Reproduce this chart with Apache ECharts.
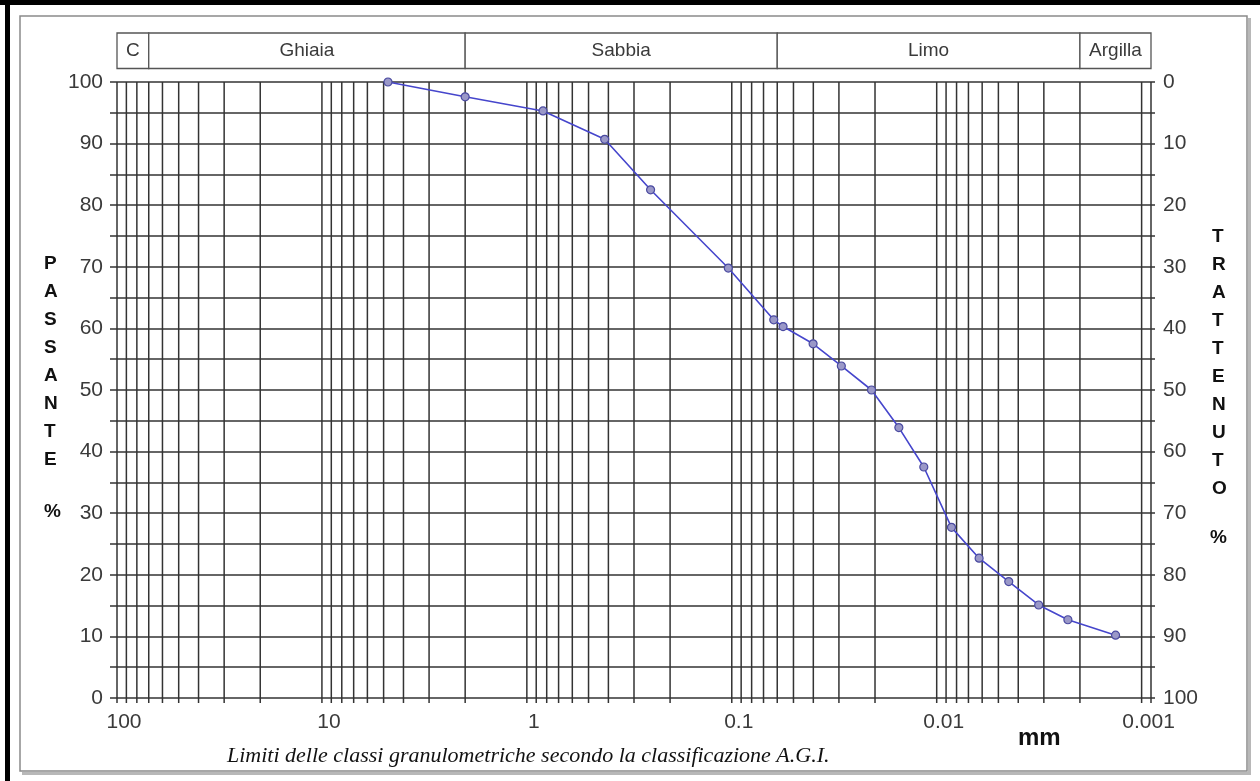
<!DOCTYPE html>
<html>
<head>
<meta charset="utf-8">
<script src="https://cdn.jsdelivr.net/npm/echarts@6/dist/echarts.min.js"></script>
<style>
html,body{margin:0;padding:0;background:#fff;}
#c{width:1260px;height:781px;}
</style>
</head>
<body>
<div id="c"></div>
<script>
// ---- data ----
const diameters = [4.76, 2.0, 0.834, 0.417, 0.249, 0.104, 0.0624, 0.0562, 0.0401, 0.0292, 0.0208, 0.0153, 0.01156, 0.00847, 0.00621, 0.00445, 0.00318, 0.00229, 0.00134];
const passing   = [100, 97.6, 95.3, 90.7, 82.5, 69.8, 61.4, 60.3, 57.5, 53.9, 50.0, 43.9, 37.5, 27.7, 22.7, 18.9, 15.1, 12.7, 10.2];
const xTickLabels = ['100', '10', '1', '0.1', '0.01', '0.001'];
const classNames  = ['C', 'Ghiaia', 'Sabbia', 'Limo', 'Argilla'];
const classBounds = [100, 70, 2, 0.06, 0.002, 0.0009];

const X_MIN = 0.0009, X_MAX = 100;
// log gridline positions: 1..9 x each decade within range
const xGrid = [];
for (let e = 2; e >= -4; e--) {
  for (let m = 9; m >= 1; m--) {
    const val = m * Math.pow(10, e);
    if (val <= X_MAX * 1.0000001 && val >= X_MIN * 0.9999999) xGrid.push(val);
  }
}
const seriesData = diameters.map((d, i) => [d, passing[i]]);

const GRID_COLOR = '#333';
const GRID_W = 1.5;
const chart = echarts.init(document.getElementById('c'), null, {renderer: 'canvas'});
const font = 'Liberation Sans, Arial, sans-serif';

chart.setOption({
  animation: false,
  backgroundColor: '#fff',
  grid: {left: 117, right: 109, top: 82, bottom: 83, containLabel: false},
  xAxis: {
    type: 'log', logBase: 10, inverse: true, min: X_MIN, max: X_MAX,
    axisLine: {show: false}, axisTick: {show: false}, splitLine: {show: false},
    axisLabel: {
      margin: 14, color: '#3a3a3a', fontSize: 21, fontFamily: font,
      padding: [0, 0, 0, 14],
      showMinLabel: false,
      formatter: function (v) {
        const l = Math.log10(v);
        if (Math.abs(l - Math.round(l)) > 1e-6) return '';
        const idx = 2 - Math.round(l);
        return xTickLabels[idx] !== undefined ? xTickLabels[idx] : '';
      }
    }
  },
  yAxis: [
    {
      type: 'value', min: 0, max: 100, interval: 5, position: 'left',
      axisLine: {show: false},
      axisTick: {show: true, length: 7, lineStyle: {color: GRID_COLOR, width: GRID_W}},
      splitLine: {show: true, lineStyle: {color: GRID_COLOR, width: GRID_W}},
      axisLabel: {margin: 14, color: '#3a3a3a', fontSize: 21, fontFamily: font,
        formatter: v => (v % 10 === 0 ? String(v) : '')}
    },
    {
      type: 'value', min: 0, max: 100, interval: 5, position: 'right', inverse: true,
      axisLine: {show: false},
      axisTick: {show: true, length: 4, lineStyle: {color: GRID_COLOR, width: GRID_W}},
      splitLine: {show: false},
      axisLabel: {margin: 12, color: '#3a3a3a', fontSize: 21, fontFamily: font,
        formatter: v => (v % 10 === 0 ? String(v) : '')}
    }
  ],
  graphic: [
    // outer frames
    {type: 'rect', shape: {x: 0, y: 0, width: 1260, height: 5}, style: {fill: '#000'}, z: 0},
    {type: 'rect', shape: {x: 5, y: 0, width: 5, height: 781}, style: {fill: '#000'}, z: 0},
    {type: 'rect', shape: {x: 20, y: 16, width: 1227, height: 755}, style: {fill: 'none', stroke: '#8a8a8a', lineWidth: 1.5}, z: 0},
    {type: 'rect', shape: {x: 22, y: 772, width: 1228, height: 3}, style: {fill: '#b8b8b8'}, z: 0},
    {type: 'rect', shape: {x: 1248, y: 18, width: 3, height: 757}, style: {fill: '#b8b8b8'}, z: 0},
    // axis titles
    {type: 'text', left: 44, top: 250, style: {text: 'P\nA\nS\nS\nA\nN\nT\nE', font: 'bold 19px ' + font, fill: '#111', lineHeight: 28, align: 'center'}},
    {type: 'text', left: 44, top: 502, style: {text: '%', font: 'bold 19px ' + font, fill: '#111'}},
    {type: 'text', left: 1212, top: 223, style: {text: 'T\nR\nA\nT\nT\nE\nN\nU\nT\nO', font: 'bold 19px ' + font, fill: '#111', lineHeight: 28, align: 'center'}},
    {type: 'text', left: 1210, top: 528, style: {text: '%', font: 'bold 19px ' + font, fill: '#111'}},
    {type: 'text', left: 1018, top: 726, style: {text: 'mm', font: 'bold 24px ' + font, fill: '#111'}},
    {type: 'text', left: 227, top: 745, style: {text: 'Limiti delle classi granulometriche secondo la classificazione A.G.I.', font: 'italic 22px Liberation Serif, Times New Roman, serif', fill: '#111'}}
  ],
  series: [
    {
      type: 'custom', silent: true, clip: false, z: 1,
      xAxisIndex: 0, yAxisIndex: 0,
      data: xGrid.map(v => [v, 0]),
      renderItem: function (params, api) {
        const v = api.value(0);
        const p0 = api.coord([v, 0]);
        const p1 = api.coord([v, 100]);
        return {type: 'line', shape: {x1: p0[0], y1: p0[1] + 5, x2: p1[0], y2: p1[1]},
          style: {stroke: GRID_COLOR, lineWidth: GRID_W}};
      }
    },
    {
      type: 'custom', silent: true, clip: false, z: 2,
      xAxisIndex: 0, yAxisIndex: 0,
      data: classNames.map((n, i) => [classBounds[i], classBounds[i + 1], i]),
      renderItem: function (params, api) {
        const a = api.coord([api.value(0), 100]);
        const b = api.coord([api.value(1), 100]);
        const top = a[1] - 49, bot = a[1] - 13.5;
        const name = classNames[api.value(2)];
        return {type: 'group', children: [
          {type: 'rect', shape: {x: a[0], y: top, width: b[0] - a[0], height: bot - top},
            style: {fill: '#fff', stroke: '#555', lineWidth: 1.3}},
          {type: 'text', style: {text: name, x: (a[0] + b[0]) / 2, y: (top + bot) / 2,
            align: 'center', verticalAlign: 'middle', font: '19px ' + font, fill: '#3a3a3a'}}
        ]};
      }
    },
    {
      type: 'line', xAxisIndex: 0, yAxisIndex: 0, z: 5,
      data: seriesData,
      symbol: 'circle', symbolSize: 8,
      lineStyle: {color: '#4646cc', width: 1.6},
      itemStyle: {color: '#9a98c8', borderColor: '#4a4aa0', borderWidth: 1.2}
    }
  ]
});
</script>
</body>
</html>
